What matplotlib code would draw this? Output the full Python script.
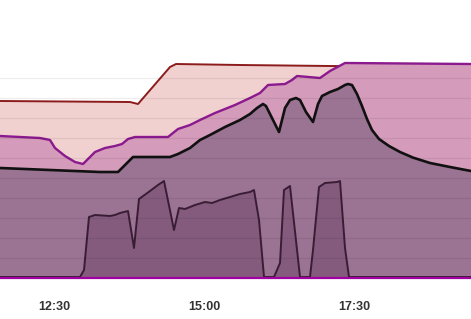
import matplotlib
matplotlib.use("Agg")
import matplotlib.pyplot as plt
from matplotlib.ticker import FixedLocator, FuncFormatter

# time in minutes since midnight, values in chart units
red_t = [696, 826, 834, 866, 872, 936, 1026, 1167]
red_v = [8.85, 8.8, 8.7, 10.55, 10.7, 10.65, 10.6, 10.55]

purple_t = [696, 736, 746, 751, 761, 771, 779, 783, 791, 801, 811, 818, 824, 831,
            864, 874, 886, 896, 911, 931, 946, 956, 964, 981, 988, 993, 1016,
            1026, 1041, 1167]
purple_v = [7.1, 7.0, 6.9, 6.5, 6.1, 5.8, 5.7, 5.9, 6.3, 6.5, 6.6, 6.7, 6.95, 7.05,
            7.05, 7.45, 7.65, 7.9, 8.25, 8.65, 9.0, 9.25, 9.65, 9.7, 9.9, 10.1, 10.0,
            10.35, 10.75, 10.7]

black_t = [696, 746, 796, 814, 821, 829, 866, 874, 886, 896, 906, 921, 936, 946,
           953, 959, 962, 975, 981, 986, 992, 996, 1002, 1009, 1014, 1018, 1026,
           1034, 1041, 1044, 1048, 1053, 1058, 1063, 1068, 1075, 1085, 1096, 1109,
           1126, 1146, 1167]
black_v = [5.5, 5.4, 5.3, 5.3, 5.65, 6.05, 6.05, 6.2, 6.5, 6.9, 7.15, 7.55, 7.9, 8.2,
           8.5, 8.7, 8.6, 7.3, 8.5, 8.9, 9.0, 8.9, 8.3, 7.8, 8.7, 9.1, 9.3,
           9.45, 9.65, 9.7, 9.65, 9.2, 8.6, 7.95, 7.4, 6.95, 6.6, 6.3, 6.02,
           5.75, 5.55, 5.35]

dark_t = [696, 776, 780, 785, 791, 806, 811, 816, 824, 830, 835, 846, 854, 860,
          870, 875, 881, 891, 901, 908, 916, 926, 936, 946, 950, 955, 960, 970,
          976, 980, 986, 996, 1006, 1009, 1015, 1021, 1033, 1036, 1041, 1045, 1167]
dark_v = [0.05, 0.05, 0.4, 3.05, 3.15, 3.1, 3.15, 3.25, 3.35, 1.5, 3.95, 4.35, 4.65, 4.85,
          2.4, 3.5, 3.45, 3.65, 3.8, 3.75, 3.9, 4.05, 4.2, 4.3, 4.4, 2.9, 0.05, 0.05,
          0.75, 4.4, 4.6, 0.05, 0.05, 1.4, 4.55, 4.75, 4.8, 4.85, 1.5, 0.05, 0.05]

base_t = [696, 1167]
base_v = [0, 0]

tick_t = [750, 900, 1050]

fig = plt.figure(figsize=(4.71, 3.19), dpi=100)
ax = fig.add_axes([0, 1 - 280 / 319, 1, 280 / 319])

layers = [
    (red_t, red_v, "#f1d0d0", "#8c1c1c", 1.4),
    (purple_t, purple_v, "#d59bba", "#8a1a8e", 1.7),
    (black_t, black_v, "#9b7393", "#111111", 1.9),
    (dark_t, dark_v, "#845b7d", "#3a1d35", 1.4),
]
for i, (t, v, fc, lc, lw) in enumerate(layers):
    ax.fill_between(t, v, 0, color=fc, lw=0, zorder=1 + i)
    ax.plot(t, v, color=lc, lw=lw, zorder=1 + i + 0.5, solid_joinstyle="round")

ax.plot(base_t, base_v, color="#a000a0", lw=1.6, zorder=10)

# gridlines sit on top of the fills
for k in range(1, 11):
    ax.axhline(k, color="black", alpha=0.07, lw=0.9, zorder=8)

ax.set_xlim(696, 1167)
ax.set_ylim(-0.1, 13.9)
ax.xaxis.set_major_locator(FixedLocator(tick_t))
ax.xaxis.set_major_formatter(FuncFormatter(lambda m, p: f"{int(m) // 60}:{int(m) % 60:02d}"))
ax.set_yticks([])
ax.tick_params(axis="x", length=0, pad=15, labelsize=9, labelcolor="#333333")
for lab in ax.get_xticklabels():
    lab.set_fontfamily("Liberation Sans")
    lab.set_fontweight("bold")
for s in ax.spines.values():
    s.set_visible(False)

fig.savefig("out.png", dpi=100)
